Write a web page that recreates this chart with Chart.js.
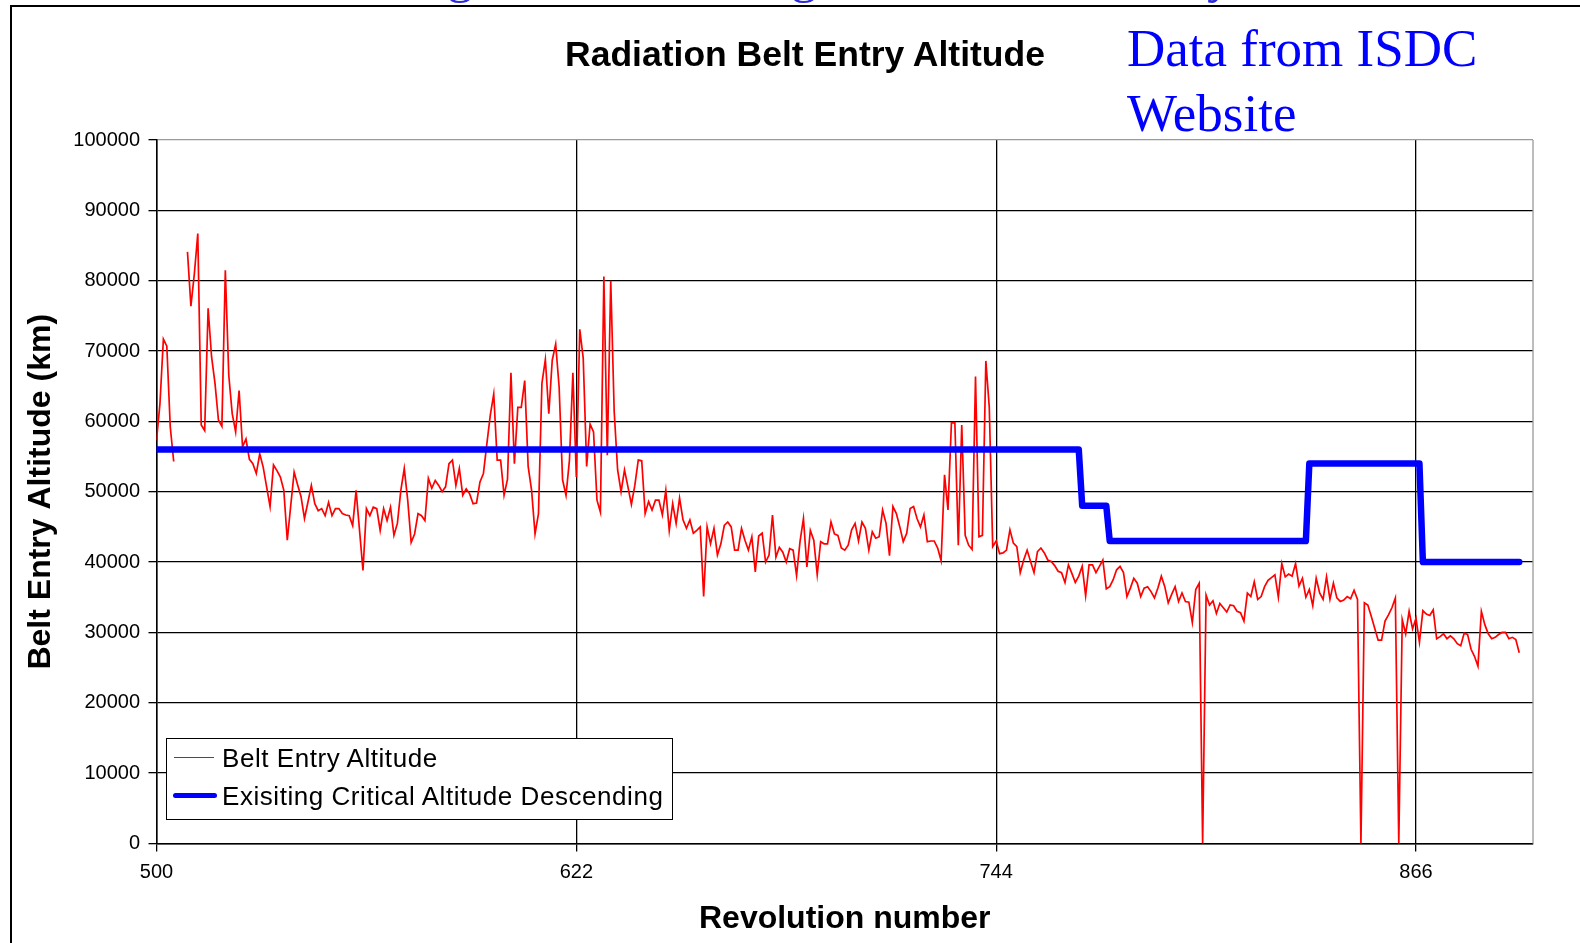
<!DOCTYPE html>
<html>
<head>
<meta charset="utf-8">
<script src="https://cdn.jsdelivr.net/npm/chart.js@4.4.1/dist/chart.umd.min.js"></script>
<style>
  html, body { margin: 0; padding: 0; background: #fff; }
  #wrap { position: relative; width: 1580px; height: 943px; overflow: hidden; background: #fff; }
  #c { position: absolute; left: 0; top: 0; }
  .frame { position: absolute; left: 10px; top: 5px; width: 1600px; height: 960px;
           border-top: 2px solid #000; border-left: 2px solid #000; box-sizing: border-box; }
  .clipTop { position: absolute; left: 0; top: 0; width: 1580px; height: 5px; overflow: hidden; }
  .clipTop span { position: absolute; top: -52px; font: 53px/53px 'Liberation Serif', 'Times New Roman', serif; color: #2b2bd9; }
  #title { position: absolute; left: 805px; top: 36.6px; transform: translateX(-50%);
           font: bold 35.5px/35.5px 'Liberation Sans', Arial, sans-serif; color: #000; white-space: nowrap; }
  #source { position: absolute; left: 1127px; top: 16.3px; font: 53px/65px 'Liberation Serif', 'Times New Roman', serif;
            color: #0000ff; white-space: nowrap; }
  #legendBox { position: absolute; left: 166.2px; top: 737.8px; width: 506.8px; height: 81.9px;
               border: 1.5px solid #000; background: #fff; box-sizing: border-box; }
  .sw { position: absolute; }
  .lt { position: absolute; left: 222px; font: 26px/26px 'Liberation Sans', Arial, sans-serif; letter-spacing: 0.55px;
        color: #000; white-space: nowrap; }
</style>
</head>
<body>
<div id="wrap">
  <canvas id="c" width="1580" height="943"></canvas>
  <div class="frame"></div>
  <div class="clipTop"><span style="left:447px">g</span><span style="left:791px">g</span><span style="left:1207px">y</span></div>
  <div id="title"></div>
  <div id="source">Data from ISDC<br>Website</div>
  <div id="legendBox"></div>
  <div class="sw" style="left:174.3px;top:756.5px;width:39.7px;height:1.6px;background:#ff0000;"></div>
  <div class="sw" style="left:173px;top:792.5px;width:44px;height:5px;border-radius:2.5px;background:#0000ff;"></div>
  <div class="lt" id="lt1" style="top:745.1px;"></div>
  <div class="lt" id="lt2" style="top:783.3px;"></div>
</div>
<script>
// ---------- DATA ----------
const chartTitle = 'Radiation Belt Entry Altitude';
const seriesNames = ['Belt Entry Altitude', 'Exisiting Critical Altitude Descending'];
const xAxisTitle = 'Revolution number';
const yAxisTitle = 'Belt Entry Altitude (km)';

// Belt entry altitude (km), one value per revolution starting at rev 500 (null = no data)
const beltStartRev = 500;
const beltAlt = [
  57300, 62500, 71700, 70700, 59200, 54300, null, null, null, 84100,   // 500-509
  76400, 81000, 86700, 59500, 58700, 76100, 69200, 65400, 60200, 59300, // 510-519
  81500, 66600, 61100, 58500, 64400, 56400, 57500, 54600, 54000, 52600, // 520-529
  55400, 53500, 50700, 47900, 53800, 53000, 52100, 50200, 43100, 48000, // 530-539
  52800, 51000, 49300, 46200, 48500, 50900, 48300, 47300, 47600, 46600, // 540-549
  48500, 46600, 47600, 47600, 46900, 46700, 46600, 45200, 50200, 44500, // 550-559
  38800, 47600, 46600, 47800, 47600, 44500, 47600, 45900, 47800, 43800, // 560-569
  45500, 50200, 53300, 48800, 42800, 44000, 46900, 46600, 45900, 51900, // 570-579
  50500, 51600, 50900, 50000, 50700, 54000, 54500, 50900, 53300, 49500, // 580-589
  50400, 49700, 48300, 48400, 51400, 52600, 56800, 60900, 63900, 54500, // 590-599
  54500, 49500, 51800, 66900, 54000, 62000, 62000, 65800, 53600, 50200, // 600-609
  44000, 46900, 65400, 68800, 61100, 68700, 71000, 64900, 51700, 49500, // 610-619
  54500, 66900, 52100, 73100, 69000, 53600, 59600, 58500, 48800, 47100, // 620-629
  80600, 55200, 80000, 61400, 53100, 50000, 53100, 50700, 48200, 50900, // 630-639
  54500, 54400, 46900, 48600, 47400, 48800, 48800, 46700, 50200, 44500, // 640-649
  48300, 45500, 49100, 46000, 44800, 46000, 44100, 44500, 45000, 35100, // 650-659
  45000, 42600, 44800, 41000, 42600, 45200, 45700, 45000, 41700, 41700, // 660-669
  44800, 43100, 41700, 43600, 38600, 43700, 44100, 40000, 41000, 46700, // 670-679
  40700, 42100, 41400, 40000, 41900, 41700, 38100, 42900, 46200, 39300, // 680-689
  44500, 43100, 38200, 42900, 42600, 42600, 45700, 44000, 43800, 42000, // 690-699
  41700, 42400, 44600, 45500, 43000, 45700, 44800, 41700, 44300, 43400, // 700-709
  43600, 47400, 45500, 40900, 47900, 46900, 45000, 42900, 44100, 47600, // 710-719
  47900, 46200, 45000, 46700, 42900, 43000, 43000, 42000, 40200, 52400, // 720-729
  47400, 59800, 59800, 42400, 59500, 43800, 42400, 41800, 66400, 43600, // 730-739
  43800, 68600, 62000, 42200, 43000, 41200, 41300, 41700, 44600, 42700, // 740-749
  42200, 38500, 40300, 41700, 40100, 38500, 41500, 42000, 41300, 40300, // 750-759
  40100, 39500, 38700, 38500, 37100, 39600, 38400, 37100, 38000, 39400, // 760-769
  35200, 39600, 39600, 38500, 39400, 40300, 36200, 36500, 37500, 38900, // 770-779
  39400, 38500, 35100, 36300, 37700, 37000, 35100, 36300, 36500, 35800, // 780-789
  34900, 36300, 38000, 36500, 34200, 35400, 36500, 34400, 35600, 34400, // 790-799
  34300, 31400, 36100, 37000, 0, 35300, 33900, 34500, 32700, 34100,     // 800-809
  33500, 32900, 33900, 33800, 33000, 32800, 31600, 35600, 35100, 37200, // 810-819
  34700, 35100, 36500, 37400, 37800, 38200, 35000, 39800, 37900, 38300, // 820-829
  38000, 39800, 36600, 37700, 35000, 36100, 33800, 37700, 35600, 34700, // 830-839
  37900, 34700, 37000, 34900, 34400, 34600, 35100, 34800, 36000, 34700, // 840-849
  0, 34200, 33900, 32300, 30600, 28900, 28900, 31600, 32500, 33500,     // 850-859
  34900, 0, 31800, 29800, 33000, 30500, 32000, 28600, 33100, 32600,     // 860-869
  32400, 33200, 29100, 29400, 29800, 29100, 29500, 29100, 28400, 28100, // 870-879
  29900, 29700, 27600, 26600, 25200, 33000, 31100, 29800, 29100, 29300, // 880-889
  29700, 30000, 30000, 29100, 29300, 29000, 27100                       // 890-896
];

// Existing critical altitude descending (step line)
const critRev = [500, 768, 769, 776, 777, 834, 835, 867, 868, 896];
const critAlt = [56000, 56000, 48000, 48000, 43000, 43000, 54000, 54000, 40000, 40000];

const xMin = 500, xMax = 900;
const xTicks = [500, 622, 744, 866];
const yMin = 0, yMax = 100000, yStep = 10000;

// ---------- TEXT ----------
document.getElementById('title').textContent = chartTitle;
document.getElementById('lt1').textContent = seriesNames[0];
document.getElementById('lt2').textContent = seriesNames[1];

// ---------- CHART ----------
Chart.defaults.font.family = "'Liberation Sans', Arial, sans-serif";
Chart.defaults.color = '#000';

const beltData = beltAlt.map((v, i) => ({ x: beltStartRev + i, y: v }));
const critData = critRev.map((r, i) => ({ x: r, y: critAlt[i] }));

const plotBorder = {
  id: 'plotBorder',
  beforeDatasetsDraw(chart) {
    const { ctx, chartArea: a } = chart;
    ctx.save();
    ctx.strokeStyle = '#9a9a9a';
    ctx.lineWidth = 1.3;
    ctx.beginPath();
    ctx.moveTo(a.right, a.top);
    ctx.lineTo(a.right, a.bottom);
    ctx.stroke();
    ctx.restore();
  }
};

new Chart(document.getElementById('c').getContext('2d'), {
  type: 'line',
  data: {
    datasets: [
      { label: seriesNames[0], data: beltData, borderColor: '#ff0000', backgroundColor: '#ff0000',
        borderWidth: 1.7, pointRadius: 0, tension: 0, spanGaps: false, order: 1 },
      { label: seriesNames[1], data: critData, borderColor: '#0000ff', backgroundColor: '#0000ff',
        borderWidth: 6.5, pointRadius: 0, tension: 0, borderCapStyle: 'round', borderJoinStyle: 'round', order: 0 }
    ]
  },
  options: {
    responsive: false,
    animation: false,
    devicePixelRatio: 1,
    layout: { padding: { left: 0, right: 47, top: 140.1, bottom: 0 } },
    plugins: { legend: { display: false }, tooltip: { enabled: false }, title: { display: false } },
    scales: {
      x: {
        type: 'linear', min: xMin, max: xMax,
        afterBuildTicks: s => { s.ticks = xTicks.map(v => ({ value: v })); },
        afterFit: s => { s.height = 99.6; },
        ticks: { font: { size: 20 }, padding: 9, maxRotation: 0, autoSkip: false, callback: v => String(v) },
        grid: { color: '#000', lineWidth: 1.3, tickLength: 8, tickColor: '#000' },
        border: { color: '#000', width: 1.5 },
        title: { display: true, text: xAxisTitle, font: { size: 32, weight: 'bold' }, padding: { top: 0, bottom: 4.3 } }
      },
      y: {
        min: yMin, max: yMax,
        afterFit: s => { s.width = 156.5; },
        ticks: { stepSize: yStep, font: { size: 20 }, padding: 8.5, callback: v => String(v) },
        grid: {
          color: c => (c.tick && c.tick.value === yMax) ? '#9a9a9a' : '#000',
          lineWidth: 1.3, tickLength: 8, tickColor: '#000'
        },
        border: { color: '#000', width: 1.5 },
        title: { display: true, text: yAxisTitle, font: { size: 32, weight: 'bold' }, padding: { top: 22, bottom: 0 } }
      }
    }
  },
  plugins: [plotBorder]
});
</script>
</body>
</html>
